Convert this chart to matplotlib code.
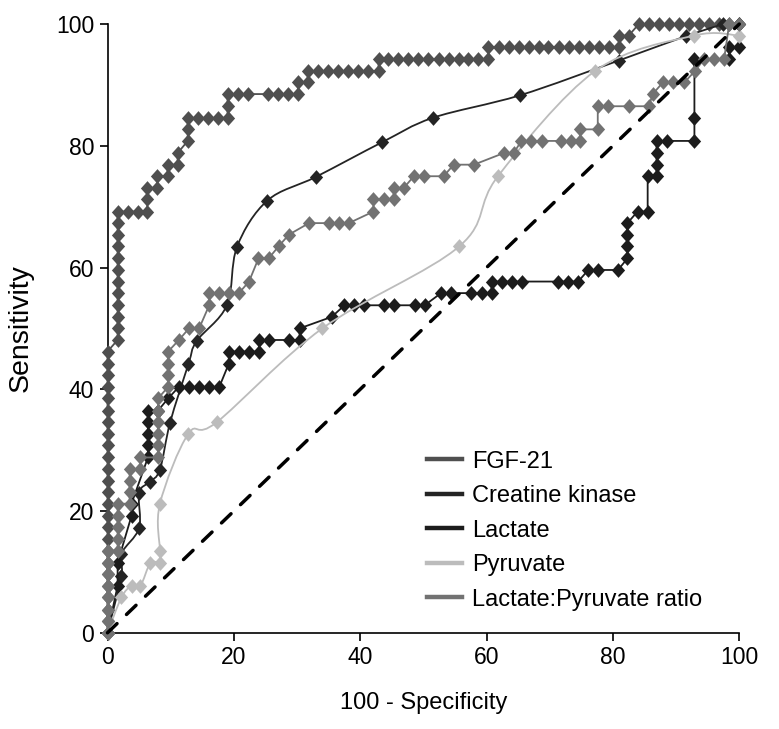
import numpy as np
import matplotlib.pyplot as plt
from matplotlib.path import Path
from matplotlib.patches import PathPatch
from matplotlib.lines import Line2D

plt.rcParams['font.family'] = ['Liberation Sans', 'DejaVu Sans']

# ---- data (percent) ----
series_names = ['FGF-21', 'Creatine kinase', 'Lactate', 'Pyruvate',
                'Lactate:Pyruvate ratio']

fgf_x = [0, 0, 0, 0, 0, 0, 0, 0, 0, 0, 0, 0, 0, 0, 0, 0, 0, 0, 0, 0, 0, 0, 0, 0, 0,
         1.6, 1.6, 1.6, 1.6, 1.6, 1.6, 1.6, 1.6, 1.6, 1.6, 1.6, 1.6,
         3.2, 4.8, 6.3,
         6.3, 6.3, 7.9, 7.9, 9.5, 9.5, 11.1, 11.1, 12.7, 12.7, 12.7,
         14.3, 15.9, 17.5, 19.0,
         19.0, 19.0,
         20.6, 22.2, 25.4, 27.0, 28.6, 30.2,
         30.2, 31.7, 31.7,
         33.3, 34.9, 36.5, 38.1, 39.7, 41.3, 42.9,
         42.9, 44.4, 46.0, 47.6, 49.2, 50.8, 52.4, 54.0, 55.6, 57.1, 58.7, 60.3,
         60.3, 61.9, 63.5, 65.1, 66.7, 68.3, 69.8, 71.4, 73.0, 74.6, 76.2, 77.8, 79.4, 81.0,
         81.0, 82.5,
         84.1, 85.7, 87.3, 88.9, 90.5, 92.1, 93.7, 95.2, 96.8, 98.4, 100]
fgf_y = [0, 1.9, 3.8, 5.8, 7.7, 9.6, 11.5, 13.5, 15.4, 17.3, 19.2, 21.2, 23.1, 25.0,
         26.9, 28.8, 30.8, 32.7, 34.6, 36.5, 38.5, 40.4, 42.3, 44.2, 46.2,
         48.1, 50.0, 51.9, 53.8, 55.8, 57.7, 59.6, 61.5, 63.5, 65.4, 67.3, 69.2,
         69.2, 69.2, 69.2,
         71.2, 73.1, 73.1, 75.0, 75.0, 76.9, 76.9, 78.8, 80.8, 82.7, 84.6,
         84.6, 84.6, 84.6, 84.6,
         86.5, 88.5,
         88.5, 88.5, 88.5, 88.5, 88.5, 88.5,
         90.4, 90.4, 92.3,
         92.3, 92.3, 92.3, 92.3, 92.3, 92.3, 92.3,
         94.2, 94.2, 94.2, 94.2, 94.2, 94.2, 94.2, 94.2, 94.2, 94.2, 94.2, 94.2,
         96.2, 96.2, 96.2, 96.2, 96.2, 96.2, 96.2, 96.2, 96.2, 96.2, 96.2, 96.2, 96.2, 96.2,
         98.1, 98.1,
         100, 100, 100, 100, 100, 100, 100, 100, 100, 100, 100]

ck_x = [0, 2.2, 2.2, 5.0, 5.0, 6.7, 8.3, 9.9, 12.8, 14.1, 18.9, 20.5, 25.3, 33.0,
        43.5, 51.5, 65.3, 80.9, 91.5, 97.5]
ck_y = [0, 9.4, 13.0, 17.2, 23.0, 24.8, 26.8, 34.5, 44.1, 47.9, 53.8, 63.4, 71.0, 74.9,
        80.6, 84.6, 88.3, 94.0, 98.0, 100]

lac_x = [0, 1.6, 1.6, 3.8, 3.8, 6.4, 6.4, 6.4, 6.4, 6.4, 8.0, 9.6,
         11.3, 12.9, 14.5, 16.1, 17.7, 19.2, 19.2, 20.8, 22.4, 24.0, 24.0, 25.6,
         28.8, 30.4, 30.4, 35.5, 37.5, 39.0, 40.6, 43.8, 45.4, 48.6, 50.2,
         52.8, 54.4, 57.6, 59.2, 60.8, 60.8, 62.4, 64.0, 65.6, 71.3, 72.9, 74.5,
         76.1, 77.7, 80.8, 82.3, 82.3, 82.3, 82.3, 83.9, 85.5, 85.5, 86.9, 86.9,
         86.9, 86.9, 88.5, 92.9, 92.9, 92.9, 98.4, 98.4, 100, 100]
lac_y = [0, 7.7, 11.5, 19.2, 21.2, 28.8, 30.8, 32.7, 34.6, 36.5, 36.5, 38.5,
         40.4, 40.4, 40.4, 40.4, 40.4, 44.2, 46.2, 46.2, 46.2, 46.2, 48.1, 48.1,
         48.1, 48.1, 50.0, 51.9, 53.8, 53.8, 53.8, 53.8, 53.8, 53.8, 53.8,
         55.8, 55.8, 55.8, 55.8, 55.8, 57.7, 57.7, 57.7, 57.7, 57.7, 57.7, 57.7,
         59.6, 59.6, 59.6, 61.5, 63.5, 65.4, 67.3, 69.2, 69.2, 75.0, 75.0, 76.9,
         78.8, 80.8, 80.8, 80.8, 84.6, 94.2, 94.2, 96.2, 96.2, 100]

pyr_x = [0, 2.2, 3.8, 5.2, 6.8, 8.3, 8.3, 8.3, 12.8, 17.3, 34.0, 55.7, 61.8, 77.2, 92.8, 100]
pyr_y = [0, 5.8, 7.7, 7.7, 11.5, 11.5, 13.5, 21.2, 32.7, 34.6, 50.0, 63.5, 75.0, 92.3, 98.1, 98.1]

lp_x = [0, 0, 0, 0, 0, 0, 0, 0,
        1.6, 1.6, 1.6, 1.6, 1.6,
        3.5, 3.5, 3.5, 3.5,
        5.2, 5.2, 8.0, 8.0, 8.0, 8.0, 8.0, 8.0,
        9.6, 9.6, 9.6, 9.6, 11.3, 12.9, 14.5, 16.1, 16.1, 17.7, 19.2, 20.8,
        22.4, 23.9, 25.5, 27.1, 28.7, 31.9, 35.0, 36.6, 38.2,
        42.1, 42.1, 43.7, 45.3, 45.3, 46.9, 48.5, 50.1, 53.2, 54.8, 58.0,
        62.7, 64.3, 65.5, 67.1, 68.7, 71.8, 73.4, 74.8, 74.8, 77.6, 77.6,
        79.2, 82.6, 85.7, 86.3, 87.9, 89.5, 91.3, 93.0, 94.4, 96.0, 97.6, 98.4, 100]
lp_y = [0, 1.9, 3.8, 5.8, 7.7, 9.6, 11.5, 13.5,
        13.5, 15.4, 17.3, 19.2, 21.2,
        21.2, 23.1, 25.0, 26.9,
        26.9, 28.8, 28.8, 30.8, 32.7, 34.6, 36.5, 38.5,
        40.4, 42.3, 44.2, 46.2, 48.1, 50.0, 50.0, 53.8, 55.8, 55.8, 55.8, 55.8,
        57.7, 61.5, 61.5, 63.5, 65.4, 67.3, 67.3, 67.3, 67.3,
        69.2, 71.2, 71.2, 71.2, 73.1, 73.1, 75.0, 75.0, 75.0, 76.9, 76.9,
        78.8, 78.8, 80.8, 80.8, 80.8, 80.8, 80.8, 80.8, 82.7, 82.7, 86.5,
        86.5, 86.5, 86.5, 88.5, 90.4, 90.4, 90.4, 92.3, 94.2, 94.2, 94.2, 100, 100]

colors = ['#4f4f4f', '#242424', '#1c1c1c', '#bcbcbc', '#727272']

# slightly tall diamond, like the reference markers
diamond = [(0, 1), (0.9, 0), (0, -1), (-0.9, 0), (0, 1)]


def smooth_path(xs, ys):
    # Excel-like smoothed line: cubic Bezier through the points
    pts = np.column_stack([xs, ys]).astype(float)
    n = len(pts)
    verts = [pts[0]]
    codes = [Path.MOVETO]
    for i in range(n - 1):
        p0 = pts[i - 1] if i > 0 else pts[i]
        p1 = pts[i]
        p2 = pts[i + 1]
        p3 = pts[i + 2] if i + 2 < n else pts[i + 1]
        verts += [p1 + (p2 - p0) / 6.0, p2 - (p3 - p1) / 6.0, p2]
        codes += [Path.CURVE4] * 3
    return Path(verts, codes)


fig = plt.figure(figsize=(7.79, 7.29), dpi=100)
ax = fig.add_axes([0.138, 0.132, 0.811, 0.835])

ms = 10.6
data = [(fgf_x, fgf_y, False), (ck_x, ck_y, True), (lac_x, lac_y, False),
        (pyr_x, pyr_y, True), (lp_x, lp_y, False)]
for k, (xs, ys, smooth) in enumerate(data):
    c = colors[k]
    z = 3 + k
    if smooth:
        ax.add_patch(PathPatch(smooth_path(xs, ys), fill=False, edgecolor=c,
                               lw=1.3, zorder=z, clip_on=False))
        ax.plot(xs, ys, ls='none', marker=diamond, ms=ms, mfc=c, mec=c, mew=0,
                zorder=z, clip_on=False)
    else:
        ax.plot(xs, ys, '-', color=c, lw=1.3, marker=diamond, ms=ms, mfc=c,
                mec=c, mew=0, zorder=z, clip_on=False)

# reference diagonal
ax.plot([0, 100], [0, 100], color='black', lw=2.5,
        linestyle=(0, (3.8, 3.8)), dash_capstyle='round', zorder=10,
        clip_on=False)

ax.set_xlim(0, 100)
ax.set_ylim(0, 100)
ax.set_xticks(np.arange(0, 101, 20))
ax.set_yticks(np.arange(0, 101, 20))
for s in ['top', 'right']:
    ax.spines[s].set_visible(False)
for s in ['left', 'bottom']:
    ax.spines[s].set_linewidth(1.2)
ax.tick_params(direction='out', length=6, width=1.2, labelsize=16.5, pad=3.5)

ax.set_xlabel('100 - Specificity', fontsize=17)
ax.set_ylabel('Sensitivity', fontsize=20.5)
ax.xaxis.set_label_coords(0.5, -0.097)
ax.yaxis.set_label_coords(-0.117, 0.5)

handles = [Line2D([0], [0], color=c, lw=3.2) for c in colors]
ax.legend(handles, series_names, loc='upper left', frameon=False,
          bbox_to_anchor=(0.548, 0.382), bbox_transform=fig.transFigure,
          fontsize=17, handlelength=1.5, handletextpad=0.42,
          labelspacing=0.53, borderpad=0, borderaxespad=0)

fig.savefig('out.png', dpi=100)
